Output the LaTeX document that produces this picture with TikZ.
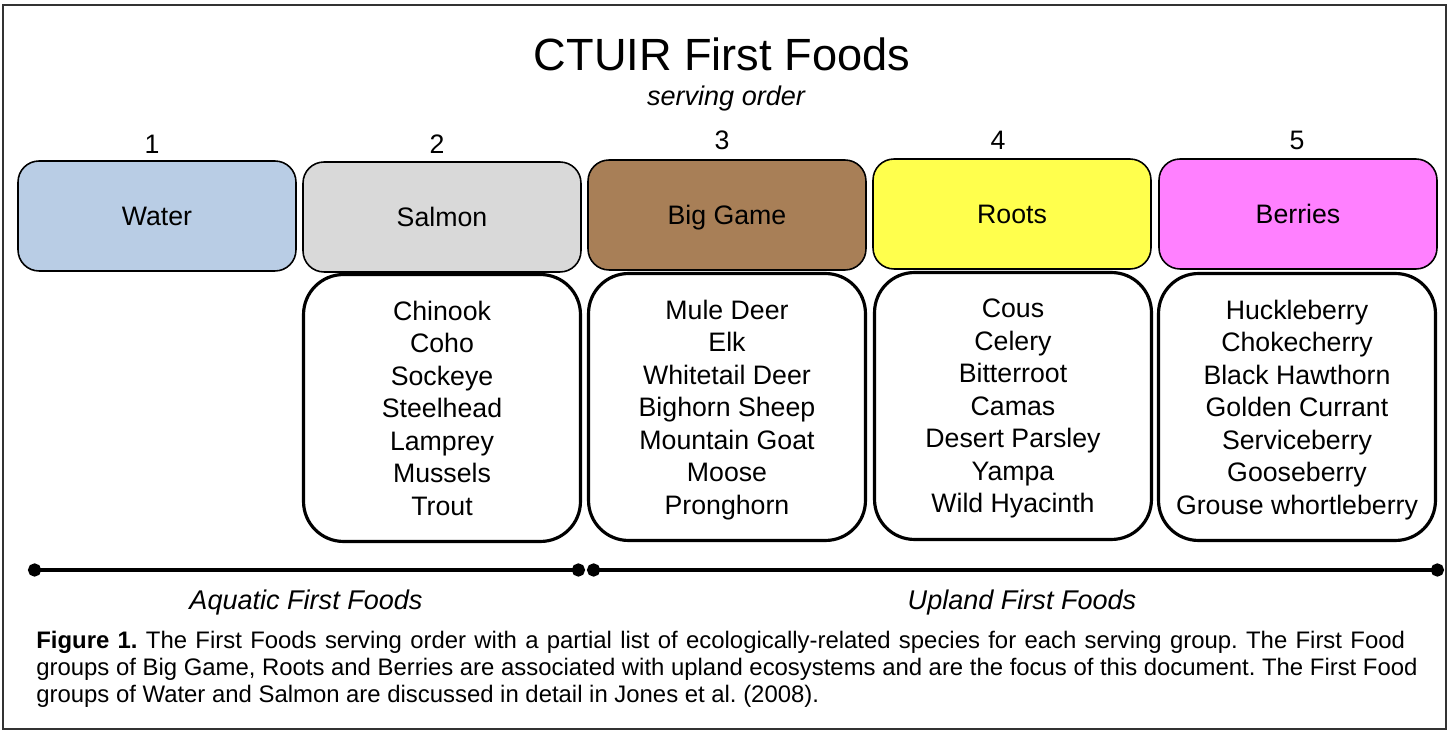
\documentclass[tikz,border=0pt]{standalone}
\usepackage{fontspec}
\setmainfont{Liberation Sans}
\usetikzlibrary{arrows.meta}

\definecolor{waterblue}{RGB}{185,205,229}
\definecolor{salmongray}{RGB}{217,217,217}
\definecolor{gamebrown}{RGB}{168,127,87}
\definecolor{rootyellow}{RGB}{255,255,77}
\definecolor{berrypink}{RGB}{255,128,255}

\begin{document}
\begin{tikzpicture}[x=0.02cm, y=-0.02cm,
    head/.style={draw, line width=0.9pt, rounded corners=0.42cm, minimum width=5.56cm, minimum height=2.2cm, text height=10.9pt, text depth=0pt, font=\fontsize{15.2}{18.5}\selectfont},
    list/.style={draw, line width=1.8pt, rounded corners=0.8cm, minimum width=5.54cm, minimum height=5.34cm, align=center, text depth=0pt, font=\fontsize{15.2}{18.5}\selectfont},
    num/.style={anchor=base, font=\fontsize{15.2}{18.5}\selectfont},
    group/.style={anchor=base, font=\fontsize{15.4}{18.5}\selectfont\itshape},
    dotline/.style={line width=2pt, {Circle[length=7.5pt]}-{Circle[length=7.5pt]}}]
    \useasboundingbox (0,0) rectangle (1448,732);
    \draw[line width=1.1pt, black!80] (3,5) rectangle (1446,729);

    % タイトル
    \node[anchor=base, font=\fontsize{25.7}{30}\selectfont] (title) at (722,71) {CTUIR First Foods};
    \node[anchor=base, font=\fontsize{15.4}{18}\selectfont\itshape] (subtitle) at (726,106) {serving order};

    % 順番
    \node[num] (n1) at (152,154) {1};
    \node[num] (n2) at (437,154) {2};
    \node[num] (n3) at (722,150) {3};
    \node[num] (n4) at (998,150) {4};
    \node[num] (n5) at (1297,150) {5};

    % グループ
    \node[head, fill=waterblue] (water) at (157,216) {Water};
    \node[head, fill=salmongray] (salmon) at (442,217) {Salmon};
    \node[head, fill=gamebrown] (game) at (727,215) {Big Game};
    \node[head, fill=rootyellow] (roots) at (1012,214) {Roots};
    \node[head, fill=berrypink] (berries) at (1298,214) {Berries};

    % 種のリスト
    \node[list] (salmonlist) at (442,408) {Chinook\\Coho\\Sockeye\\Steelhead\\Lamprey\\Mussels\\Trout};
    \node[list] (gamelist) at (727,407) {Mule Deer\\Elk\\Whitetail Deer\\Bighorn Sheep\\Mountain Goat\\Moose\\Pronghorn};
    \node[list] (rootslist) at (1013,406) {Cous\\Celery\\Bitterroot\\Camas\\Desert Parsley\\Yampa\\Wild Hyacinth};
    \node[list] (berrieslist) at (1297,407) {Huckleberry\\Chokecherry\\Black Hawthorn\\Golden Currant\\Serviceberry\\Gooseberry\\Grouse whortleberry};

    % 線を引く
    \coordinate (aqL) at (28,570);
    \coordinate (aqR) at (585,570);
    \coordinate (upL) at (587,570);
    \coordinate (upR) at (1444,570);
    \draw[dotline] (aqL) -- (aqR);
    \draw[dotline] (upL) -- (upR);
    \node[group] (aquatic) at (306,610) {Aquatic First Foods};
    \node[group] (upland) at (1022,610) {Upland First Foods};

    % キャプション
    \node[anchor=base west, align=left, inner sep=0pt, font=\fontsize{13.6}{15.4}\selectfont\frenchspacing] (caption) at (36,703)
      {\makebox[27.38cm][s]{\textbf{Figure 1.} The First Foods serving order with a partial list of ecologically-related species for each serving group. The First Food}\\
       groups of Big Game, Roots and Berries are associated with upland ecosystems and are the focus of this document. The First Food\\
       groups of Water and Salmon are discussed in detail in Jones et al. (2008).};
\end{tikzpicture}
\end{document}
